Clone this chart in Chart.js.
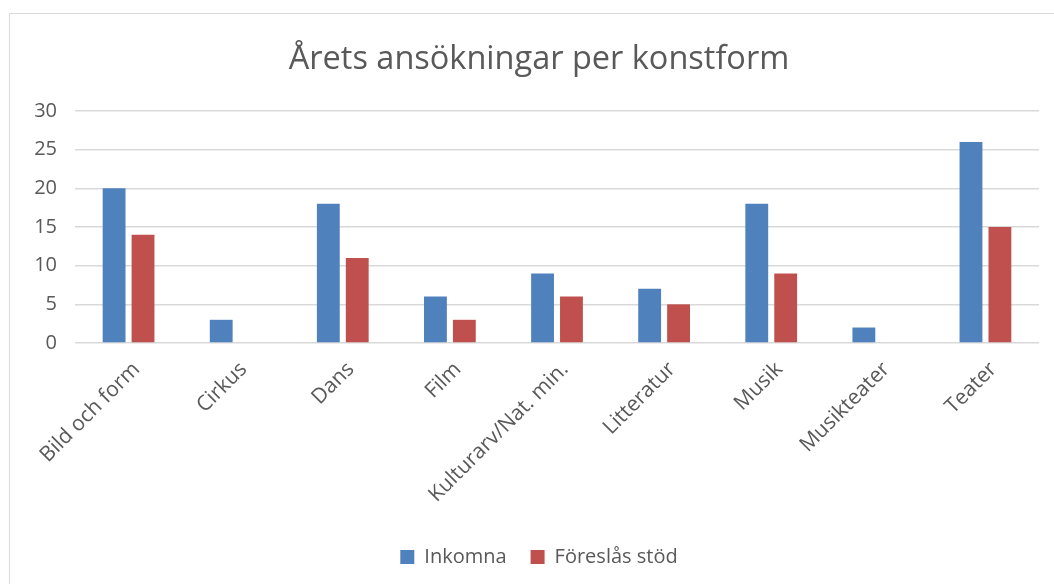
<!DOCTYPE html>
<html>
<head>
<meta charset="utf-8">
<script src="https://cdn.jsdelivr.net/npm/chart.js@4/dist/chart.umd.min.js"></script>
<style>
  html, body { margin: 0; padding: 0; background: #fff; overflow: hidden; }
  #frame { position: absolute; left: 9px; top: 13px; width: 1200px; height: 700px; border: 1px solid #d9d9d9; }
  #wrap { position: absolute; left: 0; top: 0; width: 1054px; height: 584px; }
</style>
</head>
<body>
<div id="frame"></div>
<div id="wrap"><canvas id="myChart" width="1054" height="584"></canvas></div>
<script>
// data
const konstformer = ['Bild och form', 'Cirkus', 'Dans', 'Film', 'Kulturarv/Nat. min.', 'Litteratur', 'Musik', 'Musikteater', 'Teater'];
const inkomna = [20, 3, 18, 6, 9, 7, 18, 2, 26];
const foreslasStod = [14, 0, 11, 3, 6, 5, 9, 0, 15];
const yTicks = [0, 5, 10, 15, 20, 25, 30];

const textColor = '#595959';
const fontFamily = '"Open Sans", "Liberation Sans", sans-serif';

var ctx = document.getElementById('myChart').getContext('2d');
var myChart = new Chart(ctx, {
    type: 'bar',
    data: {
        labels: konstformer,
        datasets: [{
            label: 'Inkomna',
            data: inkomna,
            backgroundColor: '#4F81BD',
            categoryPercentage: 0.54,
            barPercentage: 0.79
        },
        {
            label: 'Föreslås stöd',
            data: foreslasStod,
            backgroundColor: '#C0504D',
            categoryPercentage: 0.54,
            barPercentage: 0.79
        }]
    },
    options: {
        responsive: false,
        animation: false,
        layout: {
            // negative right padding + empty right axis: title and legend sit a bit right of the middle
            padding: { left: 0, right: -24, top: 0, bottom: 7 }
        },
        scales: {
            x: {
                grid: { display: false },
                border: { display: false },
                ticks: {
                    color: textColor,
                    font: { family: fontFamily, size: 21 },
                    maxRotation: 45,
                    minRotation: 45,
                    padding: 6,
                    labelOffset: 8
                },
                afterFit: function (scale) {
                    scale.height = 180;
                }
            },
            y: {
                min: 0,
                max: 30,
                afterBuildTicks: function (scale) {
                    scale.ticks = yTicks.map(v => ({ value: v }));
                },
                grid: {
                    color: '#d9d9d9',
                    lineWidth: 1.5,
                    drawTicks: false
                },
                border: { display: false },
                ticks: {
                    color: textColor,
                    font: { family: fontFamily, size: 20 },
                    padding: 18
                },
                afterFit: function (scale) {
                    scale.width = 75;
                }
            },
            spacer: {
                type: 'linear',
                position: 'right',
                grid: { display: false },
                border: { display: false },
                ticks: { display: false },
                afterFit: function (scale) {
                    scale.width = 39;
                }
            }
        },
        plugins: {
            title: {
                display: true,
                text: 'Årets ansökningar per konstform',
                color: textColor,
                font: { family: fontFamily, size: 32.5, weight: 'normal' },
                padding: { top: 40, bottom: 32 }
            },
            legend: {
                position: 'bottom',
                labels: {
                    color: textColor,
                    font: { family: fontFamily, size: 20 },
                    boxWidth: 14,
                    boxHeight: 14,
                    padding: 24
                }
            },
            tooltip: { enabled: false }
        }
    }
});
</script>
</body>
</html>
